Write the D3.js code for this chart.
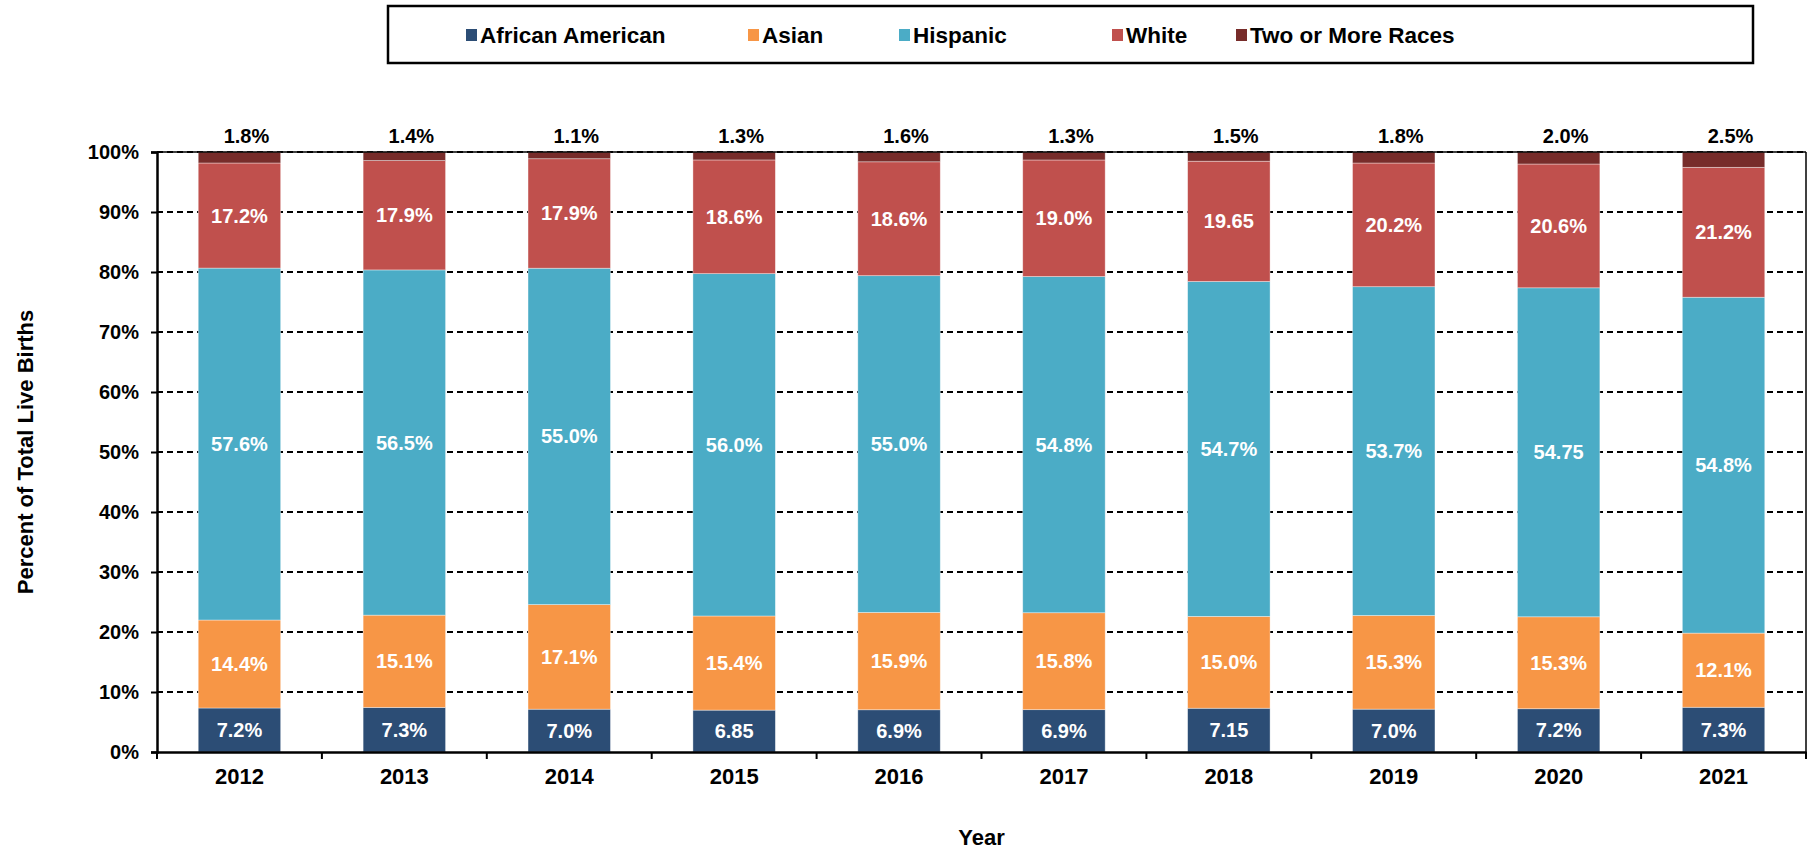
<!DOCTYPE html>
<html>
<head>
<meta charset="utf-8">
<script src="https://cdn.jsdelivr.net/npm/d3@7"></script>
<style>
  body { margin: 0; background: #fff; }
  text { font-family: "Liberation Sans", Arial, sans-serif; font-weight: bold; }
</style>
</head>
<body>
<div id="chart"></div>
<script>
// data (segment labels show the raw values)
let years = ['2012', '2013', '2014', '2015', '2016', '2017', '2018', '2019', '2020', '2021'];
let seriesNames = ['African American', 'Asian', 'Hispanic', 'White', 'Two or More Races'];
let africanAmerican = [7.2, 7.3, 7.0, 6.85, 6.9, 6.9, 7.15, 7.0, 7.2, 7.3];
let asian = [14.4, 15.1, 17.1, 15.4, 15.9, 15.8, 15.0, 15.3, 15.3, 12.1];
let hispanic = [57.6, 56.5, 55.0, 56.0, 55.0, 54.8, 54.7, 53.7, 54.75, 54.8];
let white = [17.2, 17.9, 17.9, 18.6, 18.6, 19.0, 19.65, 20.2, 20.6, 21.2];
let twoOrMore = [1.8, 1.4, 1.1, 1.3, 1.6, 1.3, 1.5, 1.8, 2.0, 2.5];
let yTicks = [0, 0.1, 0.2, 0.3, 0.4, 0.5, 0.6, 0.7, 0.8, 0.9, 1];

let seriesValues = [africanAmerican, asian, hispanic, white, twoOrMore];
let colors = ['#2C4D75', '#F79646', '#4BACC6', '#C0504D', '#772C2A'];

let width = 1816,
    height = 851,
    margin = {left: 157, top: 152, right: 10, bottom: 99},
    clipWidth = width - margin.left - margin.right,
    clipHeight = height - margin.top - margin.bottom;

let table = years.map((y, i) => {
    let row = {year: y};
    seriesNames.forEach((s, j) => row[s] = seriesValues[j][i]);
    return row;
});

let stacked = d3.stack()
    .keys(seriesNames)
    .offset(d3.stackOffsetExpand)(table);

let svg = d3.select('#chart').append('svg')
    .attr('width', width)
    .attr('height', height);

let g = svg.append('g')
    .attr('transform', `translate(${margin.left}, ${margin.top})`);

let xScale = d3.scaleBand()
    .domain(years)
    .range([0, clipWidth])
    .paddingInner(0.5)
    .paddingOuter(0.25);

let yScale = d3.scaleLinear()
    .domain([0, 1])
    .range([clipHeight, 0]);

// dashed gridlines
g.append('g')
    .selectAll('line')
    .data(yTicks.filter(d => d > 0))
    .join('line')
    .attr('x1', 0)
    .attr('x2', clipWidth)
    .attr('y1', d => yScale(d))
    .attr('y2', d => yScale(d))
    .attr('stroke', '#000')
    .attr('stroke-width', 2)
    .attr('stroke-dasharray', '6,4');

// bars
let layer_g = g.append('g')
    .selectAll('g')
    .data(stacked)
    .join('g')
    .attr('fill', (d, i) => colors[i]);

layer_g.selectAll('rect')
    .data(d => d)
    .join('rect')
    .attr('x', d => xScale(d.data.year))
    .attr('width', xScale.bandwidth())
    .attr('y', d => yScale(d[1]))
    .attr('height', d => yScale(d[0]) - yScale(d[1]))
    .attr('stroke', 'rgba(255,255,255,0.5)')
    .attr('stroke-width', 0.75);

let fmt = v => Math.abs(v * 10 - Math.round(v * 10)) < 1e-6 ? v.toFixed(1) + '%' : String(v);

// segment labels (first four series inside the bars)
let label_g = g.append('g');
stacked.slice(0, 4).forEach(layer => {
    label_g.selectAll(null)
        .data(layer)
        .join('text')
        .attr('x', d => xScale(d.data.year) + xScale.bandwidth() / 2)
        .attr('y', d => (yScale(d[0]) + yScale(d[1])) / 2)
        .attr('dy', '0.35em')
        .attr('text-anchor', 'middle')
        .attr('fill', '#fff')
        .style('font-size', '20px')
        .text(d => fmt(d.data[layer.key]));
});

// top labels for Two or More Races
label_g.selectAll(null)
    .data(stacked[4])
    .join('text')
    .attr('x', d => xScale(d.data.year) + xScale.bandwidth() / 2 + 7)
    .attr('y', yScale(1) - 16)
    .attr('dy', '0.35em')
    .attr('text-anchor', 'middle')
    .attr('fill', '#000')
    .style('font-size', '20px')
    .text(d => fmt(d.data['Two or More Races']));

// frame: top and right border
g.append('line')
    .attr('x1', 0).attr('x2', clipWidth)
    .attr('y1', 0).attr('y2', 0)
    .attr('stroke', '#000').attr('stroke-width', 1.5);
g.append('line')
    .attr('x1', clipWidth).attr('x2', clipWidth)
    .attr('y1', 0).attr('y2', clipHeight)
    .attr('stroke', '#000').attr('stroke-width', 1.5);

// y axis
let yAxis = g.append('g')
    .call(d3.axisLeft(yScale)
        .tickValues(yTicks)
        .tickFormat(d3.format('.0%'))
        .tickSize(6)
        .tickPadding(12));
yAxis.select('.domain').attr('stroke-width', 2.5);
yAxis.selectAll('.tick line').attr('stroke-width', 2);
yAxis.selectAll('text')
    .style('font-size', '20px')
    .attr('fill', '#000');

// x axis with ticks at the category boundaries
let xAxis = g.append('g')
    .attr('transform', `translate(0, ${clipHeight})`)
    .call(d3.axisBottom(xScale).tickSize(0).tickPadding(16));
xAxis.select('.domain').attr('stroke-width', 2.5);
xAxis.selectAll('text')
    .style('font-size', '22px')
    .attr('fill', '#000');

let step = xScale.step();
g.append('g')
    .selectAll('line')
    .data(d3.range(years.length + 1))
    .join('line')
    .attr('x1', i => i * step)
    .attr('x2', i => i * step)
    .attr('y1', clipHeight)
    .attr('y2', clipHeight + 7)
    .attr('stroke', '#000')
    .attr('stroke-width', 2);

// axis titles
svg.append('text')
    .attr('transform', `translate(25, ${margin.top + clipHeight / 2}) rotate(-90)`)
    .attr('text-anchor', 'middle')
    .attr('dy', '0.35em')
    .style('font-size', '22px')
    .text('Percent of Total Live Births');

svg.append('text')
    .attr('x', margin.left + clipWidth / 2)
    .attr('y', 837)
    .attr('text-anchor', 'middle')
    .attr('dy', '0.35em')
    .style('font-size', '22px')
    .text('Year');

// legend
let legend = svg.append('g');
legend.append('rect')
    .attr('x', 388).attr('y', 6)
    .attr('width', 1365).attr('height', 57)
    .attr('fill', '#fff')
    .attr('stroke', '#000')
    .attr('stroke-width', 2.5);

let legendX = [466, 748, 899, 1112, 1236];
let legendItem = legend.selectAll('.item')
    .data(seriesNames)
    .join('g')
    .attr('class', 'item')
    .attr('transform', (d, i) => `translate(${legendX[i]}, 35)`);
legendItem.append('rect')
    .attr('x', 0).attr('y', -6)
    .attr('width', 11).attr('height', 12)
    .attr('fill', (d, i) => colors[i]);
legendItem.append('text')
    .attr('x', 14)
    .attr('dy', '0.35em')
    .style('font-size', '22.5px')
    .text(d => d);
</script>
</body>
</html>
